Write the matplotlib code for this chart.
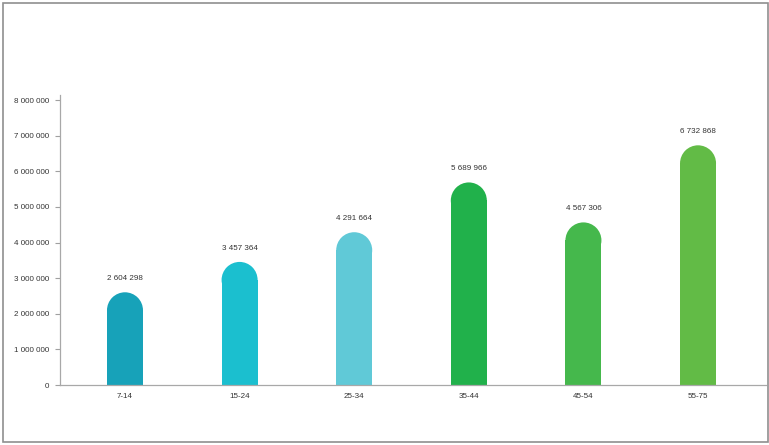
import numpy as np
import matplotlib
matplotlib.use("Agg")
import matplotlib.pyplot as plt
from matplotlib.patches import Rectangle, Ellipse
from matplotlib.ticker import FuncFormatter

categories = ["7-14", "15-24", "25-34", "35-44", "45-54", "55-75"]
values = [2604298, 3457364, 4291664, 5689966, 4567306, 6732868]
colors = ["#17a2b9", "#1bbfcf", "#60c9d7", "#21b14b", "#45b84c", "#62bb46"]
yticks = np.arange(0, 8000001, 1000000)

plt.rcParams["font.family"] = ["Liberation Sans", "DejaVu Sans"]
FS = 5.8

W, H = 769, 445
fig = plt.figure(figsize=(W / 100, H / 100), dpi=100)
fig.patch.set_facecolor("white")

# outer grey frame
fig.add_artist(Rectangle((3 / W, 3 / H), 765 / W, 439 / H, transform=fig.transFigure,
                         fill=False, edgecolor="#8f8f8f", linewidth=1.2))

ax = fig.add_axes([60 / W, 60 / H, 706 / W, 290 / H])
x = np.arange(len(categories))
ax.set_xlim(-0.567, 5.593)
ax.set_ylim(0, 8146000)

# pixel -> data conversion to get circular caps
px_x = 706 / (5.593 + 0.567)
px_y = 290 / 8146000
half_w_px = 18
rx = half_w_px / px_x
ry = half_w_px / px_y

for xi, v, c in zip(x, values, colors):
    ax.add_patch(Rectangle((xi - rx, 0), 2 * rx, v - ry, facecolor=c, edgecolor="none"))
    ax.add_patch(Ellipse((xi, v - ry), 2 * rx, 2 * ry, facecolor=c, edgecolor="none"))
    ax.annotate(f"{v:,}".replace(",", " "), (xi, v), xytext=(0, 7.5), textcoords="offset points",
                ha="center", va="bottom", fontsize=FS, color="#333333")

ax.set_xticks(x)
ax.set_xticklabels(categories)
ax.set_yticks(yticks)
ax.yaxis.set_major_formatter(FuncFormatter(lambda v, p: f"{int(v):,}".replace(",", " ")))
ax.tick_params(axis="x", length=0, pad=6, labelsize=FS, colors="#333333")
ax.tick_params(axis="y", length=3.5, width=0.8, pad=4, labelsize=FS, colors="#333333",
               color="#a0a0a0")

for s in ["top", "right"]:
    ax.spines[s].set_visible(False)
for s in ["left", "bottom"]:
    ax.spines[s].set_color("#a8a8a8")
    ax.spines[s].set_linewidth(0.9)

fig.savefig("out.png", dpi=100)
